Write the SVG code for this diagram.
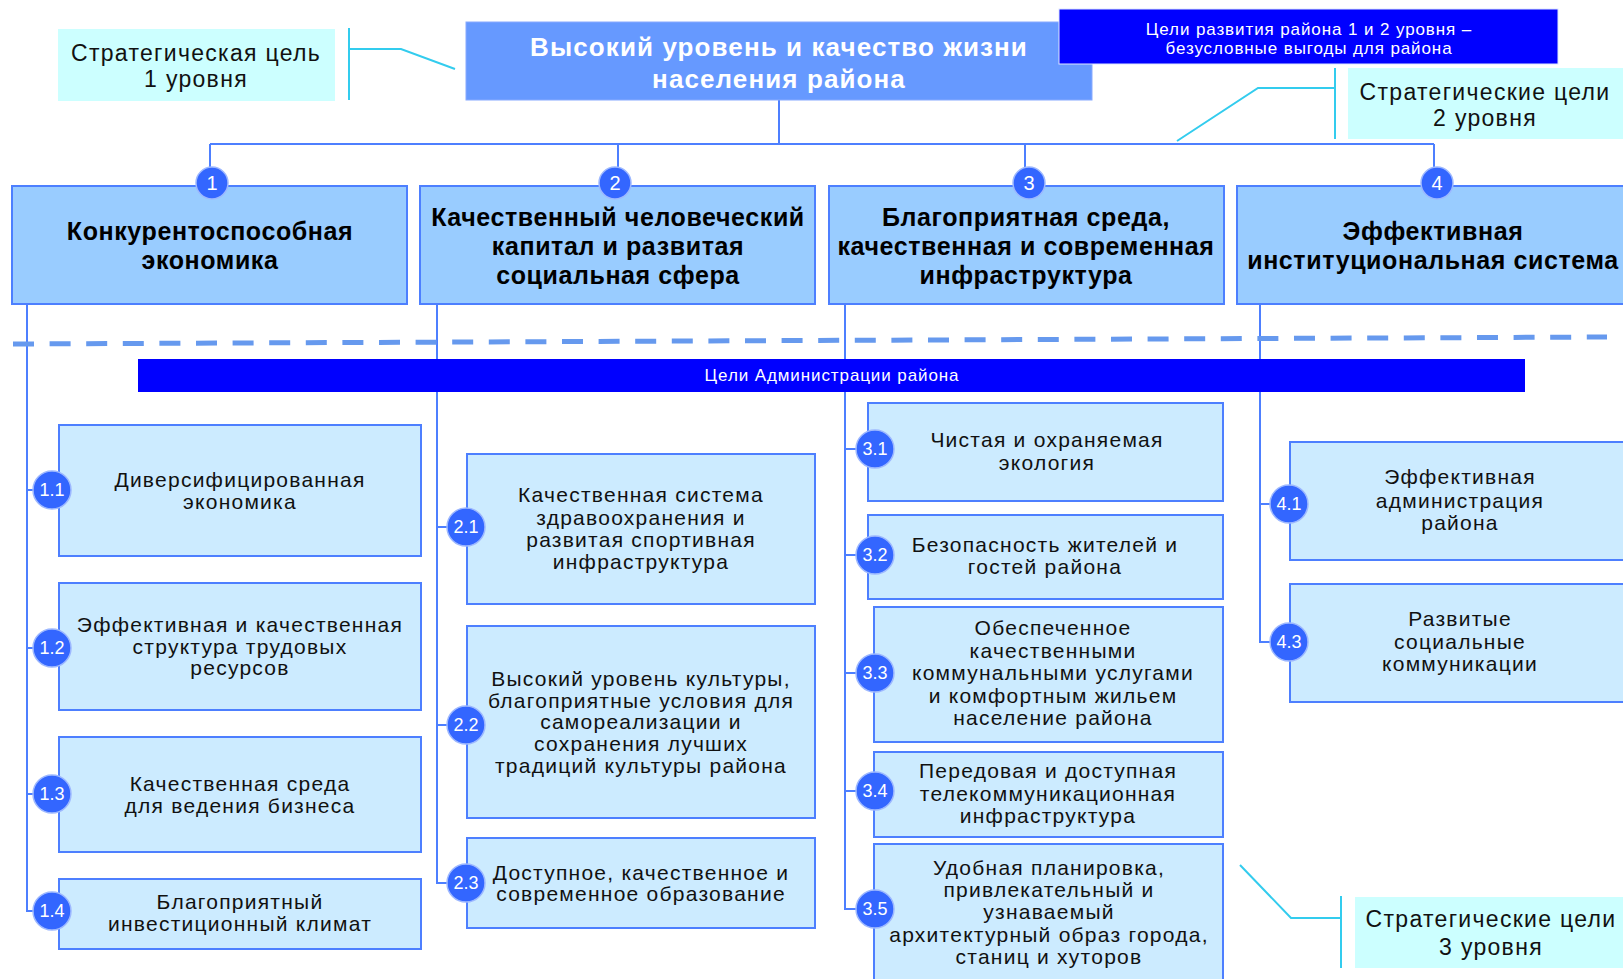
<svg xmlns="http://www.w3.org/2000/svg" width="1623" height="979" viewBox="0 0 1623 979">
<style>
text{font-family:"Liberation Sans",Arial,sans-serif;text-anchor:middle}
.l2{fill:#99CCFF;stroke:#4D7FFF;stroke-width:2}
.l3{fill:#CCEBFF;stroke:#4D7FFF;stroke-width:2}
.lbl{fill:#CCFFFF}
.bl{fill:#0000FF}
.t2{font-size:25px;font-weight:bold;fill:#000;letter-spacing:0.6px}
.t3{font-size:21px;fill:#111;letter-spacing:1.25px}
.tl{font-size:23px;fill:#111;letter-spacing:1.3px}
.tw{font-size:17px;fill:#fff;letter-spacing:0.9px}
.c2{fill:#3366FF;stroke:#9DB8FF;stroke-width:1.5}
.n2{font-size:20px;fill:#fff}
.n3{font-size:18px;fill:#fff}
.con path,.con line{stroke:#4D7FFF;stroke-width:2;fill:none}
.cy{stroke:#33CCEE;stroke-width:2;fill:none}
</style>

<g id="connectors" class="con">
  <path d="M779 100V144M210 144H1434M210 144V170M618 144V170M1025 144V170M1434 144V170"/>
  <path d="M27 304V911H36M27 490H33M27 648H33M27 794H33"/>
  <path d="M437 304V883H447M437 527H447M437 725H447"/>
  <path d="M845 304V909H856M845 449H856M845 555H856M845 673H856M845 791H856"/>
  <path d="M1260 304V642H1270M1260 504H1270"/>
</g>

<g id="dashed-divider">
  <line x1="13" y1="344" x2="1607" y2="337" stroke="#6699EE" stroke-width="5" stroke-dasharray="21 15.6"/>
</g>

<g id="admin-bar">
  <rect class="bl" x="138" y="359" width="1387" height="33"/>
  <text class="tw" x="832" y="381">Цели Администрации района</text>
</g>

<g id="main-goal">
  <rect x="466" y="22" width="626" height="78" fill="#6699FF" stroke="#88AAFF" stroke-width="1"/>
  <text x="779" y="56" font-size="26" font-weight="bold" fill="#fff" letter-spacing="1.1">Высокий уровень и качество жизни</text>
  <text x="779" y="88" font-size="26" font-weight="bold" fill="#fff" letter-spacing="1.1">населения района</text>
</g>

<g id="top-note">
  <rect class="bl" x="1059" y="9" width="499" height="55" stroke="#DDE6FF" stroke-width="1"/>
  <text class="tw" x="1309" y="35">Цели развития района 1 и 2 уровня –</text>
  <text class="tw" x="1309" y="54">безусловные выгоды для района</text>
</g>

<g id="label-1">
  <rect class="lbl" x="58" y="29" width="277" height="72"/>
  <text class="tl" x="196" y="61">Стратегическая цель</text>
  <text class="tl" x="196" y="87">1 уровня</text>
  <path class="cy" d="M349 28V100M349 49H401L455 69"/>
</g>

<g id="label-2">
  <rect class="lbl" x="1348" y="68" width="280" height="71"/>
  <text class="tl" x="1485" y="100">Стратегические цели</text>
  <text class="tl" x="1485" y="126">2 уровня</text>
  <path class="cy" d="M1335 68V139M1335 88H1258L1177 141"/>
</g>

<g id="label-3">
  <rect class="lbl" x="1355" y="897" width="273" height="71"/>
  <text class="tl" x="1491" y="927">Стратегические цели</text>
  <text class="tl" x="1491" y="955">3 уровня</text>
  <path class="cy" d="M1341 896V968M1341 918H1291L1240 865"/>
</g>

<g id="goal-1">
  <rect class="l2" x="12" y="186" width="395" height="118"/>
  <circle class="c2" cx="212" cy="183" r="16"/>
  <text class="n2" x="212" y="190">1</text>
  <text class="t2" x="210" y="240">Конкурентоспособная</text>
  <text class="t2" x="210" y="269">экономика</text>
</g>
<g id="goal-2">
  <rect class="l2" x="420" y="186" width="395" height="118"/>
  <circle class="c2" cx="615" cy="183" r="16"/>
  <text class="n2" x="615" y="190">2</text>
  <text class="t2" x="618" y="226">Качественный человеческий</text>
  <text class="t2" x="618" y="255">капитал и развитая</text>
  <text class="t2" x="618" y="284">социальная сфера</text>
</g>
<g id="goal-3">
  <rect class="l2" x="829" y="186" width="395" height="118"/>
  <circle class="c2" cx="1029" cy="183" r="16"/>
  <text class="n2" x="1029" y="190">3</text>
  <text class="t2" x="1026" y="226">Благоприятная среда,</text>
  <text class="t2" x="1026" y="255">качественная и современная</text>
  <text class="t2" x="1026" y="284">инфраструктура</text>
</g>
<g id="goal-4">
  <rect class="l2" x="1237" y="186" width="400" height="118"/>
  <circle class="c2" cx="1437" cy="183" r="16"/>
  <text class="n2" x="1437" y="190">4</text>
  <text class="t2" x="1433" y="240">Эффективная</text>
  <text class="t2" x="1433" y="269">институциональная система</text>
</g>

<g id="goal-1-1">
  <rect class="l3" x="59" y="425" width="362" height="131"/>
  <circle class="c2" cx="52" cy="490" r="19"/>
  <text class="n3" x="52" y="496">1.1</text>
  <text class="t3" x="240" y="487">Диверсифицированная</text>
  <text class="t3" x="240" y="509">экономика</text>
</g>
<g id="goal-1-2">
  <rect class="l3" x="59" y="583" width="362" height="127"/>
  <circle class="c2" cx="52" cy="648" r="19"/>
  <text class="n3" x="52" y="654">1.2</text>
  <text class="t3" x="240" y="632">Эффективная и качественная</text>
  <text class="t3" x="240" y="654">структура трудовых</text>
  <text class="t3" x="240" y="675">ресурсов</text>
</g>
<g id="goal-1-3">
  <rect class="l3" x="59" y="737" width="362" height="115"/>
  <circle class="c2" cx="52" cy="794" r="19"/>
  <text class="n3" x="52" y="800">1.3</text>
  <text class="t3" x="240" y="791">Качественная среда</text>
  <text class="t3" x="240" y="813">для ведения бизнеса</text>
</g>
<g id="goal-1-4">
  <rect class="l3" x="59" y="879" width="362" height="70"/>
  <circle class="c2" cx="52" cy="911" r="19"/>
  <text class="n3" x="52" y="917">1.4</text>
  <text class="t3" x="240" y="909">Благоприятный</text>
  <text class="t3" x="240" y="931">инвестиционный климат</text>
</g>

<g id="goal-2-1">
  <rect class="l3" x="467" y="454" width="348" height="150"/>
  <circle class="c2" cx="466" cy="527" r="19"/>
  <text class="n3" x="466" y="533">2.1</text>
  <text class="t3" x="641" y="502">Качественная система</text>
  <text class="t3" x="641" y="525">здравоохранения и</text>
  <text class="t3" x="641" y="547">развитая спортивная</text>
  <text class="t3" x="641" y="569">инфраструктура</text>
</g>
<g id="goal-2-2">
  <rect class="l3" x="467" y="626" width="348" height="192"/>
  <circle class="c2" cx="466" cy="725" r="19"/>
  <text class="n3" x="466" y="731">2.2</text>
  <text class="t3" x="641" y="686">Высокий уровень культуры,</text>
  <text class="t3" x="641" y="708">благоприятные условия для</text>
  <text class="t3" x="641" y="729">самореализации и</text>
  <text class="t3" x="641" y="751">сохранения лучших</text>
  <text class="t3" x="641" y="773">традиций культуры района</text>
</g>
<g id="goal-2-3">
  <rect class="l3" x="467" y="838" width="348" height="90"/>
  <circle class="c2" cx="466" cy="883" r="19"/>
  <text class="n3" x="466" y="889">2.3</text>
  <text class="t3" x="641" y="880">Доступное, качественное и</text>
  <text class="t3" x="641" y="901">современное образование</text>
</g>

<g id="goal-3-1">
  <rect class="l3" x="868" y="403" width="355" height="98"/>
  <circle class="c2" cx="875" cy="449" r="19"/>
  <text class="n3" x="875" y="455">3.1</text>
  <text class="t3" x="1047" y="447">Чистая и охраняемая</text>
  <text class="t3" x="1047" y="470">экология</text>
</g>
<g id="goal-3-2">
  <rect class="l3" x="868" y="515" width="355" height="84"/>
  <circle class="c2" cx="875" cy="555" r="19"/>
  <text class="n3" x="875" y="561">3.2</text>
  <text class="t3" x="1045" y="552">Безопасность жителей и</text>
  <text class="t3" x="1045" y="574">гостей района</text>
</g>
<g id="goal-3-3">
  <rect class="l3" x="874" y="607" width="349" height="135"/>
  <circle class="c2" cx="875" cy="673" r="19"/>
  <text class="n3" x="875" y="679">3.3</text>
  <text class="t3" x="1053" y="635">Обеспеченное</text>
  <text class="t3" x="1053" y="658">качественными</text>
  <text class="t3" x="1053" y="680">коммунальными услугами</text>
  <text class="t3" x="1053" y="703">и комфортным жильем</text>
  <text class="t3" x="1053" y="725">население района</text>
</g>
<g id="goal-3-4">
  <rect class="l3" x="874" y="752" width="349" height="85"/>
  <circle class="c2" cx="875" cy="791" r="19"/>
  <text class="n3" x="875" y="797">3.4</text>
  <text class="t3" x="1048" y="778">Передовая и доступная</text>
  <text class="t3" x="1048" y="801">телекоммуникационная</text>
  <text class="t3" x="1048" y="823">инфраструктура</text>
</g>
<g id="goal-3-5">
  <rect class="l3" x="874" y="844" width="349" height="145"/>
  <circle class="c2" cx="875" cy="909" r="19"/>
  <text class="n3" x="875" y="915">3.5</text>
  <text class="t3" x="1049" y="875">Удобная планировка,</text>
  <text class="t3" x="1049" y="897">привлекательный и</text>
  <text class="t3" x="1049" y="919">узнаваемый</text>
  <text class="t3" x="1049" y="942">архитектурный образ города,</text>
  <text class="t3" x="1049" y="964">станиц и хуторов</text>
</g>

<g id="goal-4-1">
  <rect class="l3" x="1290" y="442" width="350" height="118"/>
  <circle class="c2" cx="1289" cy="504" r="19"/>
  <text class="n3" x="1289" y="510">4.1</text>
  <text class="t3" x="1460" y="484">Эффективная</text>
  <text class="t3" x="1460" y="508">администрация</text>
  <text class="t3" x="1460" y="530">района</text>
</g>
<g id="goal-4-3">
  <rect class="l3" x="1290" y="584" width="350" height="118"/>
  <circle class="c2" cx="1289" cy="642" r="19"/>
  <text class="n3" x="1289" y="648">4.3</text>
  <text class="t3" x="1460" y="626">Развитые</text>
  <text class="t3" x="1460" y="649">социальные</text>
  <text class="t3" x="1460" y="671">коммуникации</text>
</g>
</svg>
